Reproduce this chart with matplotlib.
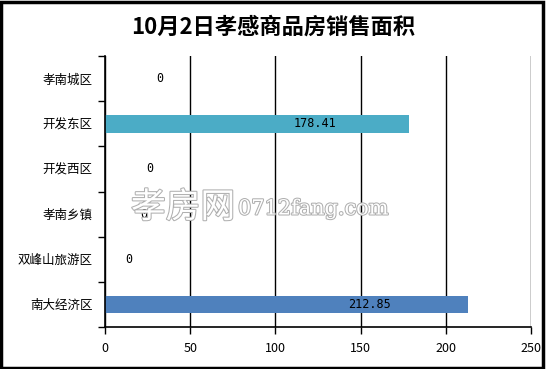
import matplotlib
matplotlib.use("Agg")
import matplotlib.pyplot as plt
import matplotlib.patheffects as pe
from matplotlib.patches import Rectangle

plt.rcParams['font.family'] = ['Noto Sans CJK SC', 'DejaVu Sans']

title = "10月2日孝感商品房销售面积"
categories = ["孝南城区", "开发东区", "开发西区", "孝南乡镇", "双峰山旅游区", "南大经济区"]
values = [0, 178.41, 0, 0, 0, 212.85]
value_labels = ["0", "178.41", "0", "0", "0", "212.85"]
label_x = [32, 123, 26.5, 23, 14, 155]
bar_colors = ["#4BACC6", "#4BACC6", "#4BACC6", "#4BACC6", "#4BACC6", "#4F81BD"]
xticks = [0, 50, 100, 150, 200, 250]

fig = plt.figure(figsize=(5.46, 3.69), dpi=100)
ax = fig.add_axes([105/546, 1-327/369, 426/546, 271/369])

y = list(range(len(categories)))
ax.barh(y, values, height=0.39, color=bar_colors, zorder=3)
for yi, lx, lab in zip(y, label_x, value_labels):
    ax.text(lx, yi, lab, ha='center', va='center', fontsize=8.5, color='black',
            family=['DejaVu Sans Mono', 'DejaVu Sans'], zorder=5)

ax.set_xlim(0, 250)
ax.set_ylim(5.5, -0.5)
ax.set_xticks(xticks)
ax.set_xticklabels([str(t) for t in xticks], fontsize=9)
ax.set_yticks(y)
ax.set_yticklabels(categories, fontsize=9)
ax.set_yticks([i - 0.5 for i in range(len(categories) + 1)], minor=True)
ax.tick_params(axis='y', which='major', length=0, pad=9)
ax.tick_params(axis='y', which='minor', length=5, width=1, direction='out')
ax.tick_params(axis='x', which='major', length=5, width=1, direction='out', pad=6)
ax.grid(axis='x', color='black', linewidth=1, zorder=1)
for s in ['top', 'right']:
    ax.spines[s].set_visible(False)
for s in ['left', 'bottom']:
    ax.spines[s].set_linewidth(1.2)
    ax.spines[s].set_zorder(4)

fig.text(0.5, 1-27/369, title, ha='center', va='center', fontsize=16, fontweight='bold')

# watermark
fig.text(131/546, 1-208/369, "孝房网", ha='left', va='center', fontsize=25, color='white',
         path_effects=[pe.withStroke(linewidth=1.5, foreground='#b0b0b0')], zorder=10)
fig.text(238/546, 1-209/369, "0712fang.com", ha='left', va='center', fontsize=15, color='white',
         family=['DejaVu Serif'],
         path_effects=[pe.withStroke(linewidth=1.5, foreground='#b0b0b0')], zorder=10)

fig.patches.append(Rectangle((0.002, 0.003), 0.993, 0.992, transform=fig.transFigure,
                             fill=False, edgecolor='black', linewidth=2.5))

fig.savefig("out.png", dpi=100)
